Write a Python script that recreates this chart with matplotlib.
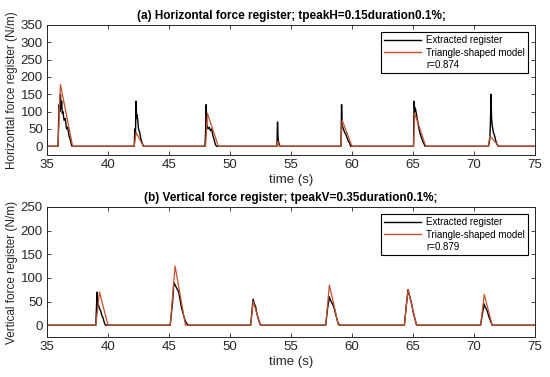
import matplotlib
matplotlib.use("Agg")
import matplotlib.pyplot as plt
from matplotlib.lines import Line2D

plt.rcParams["font.family"] = ["Liberation Sans", "DejaVu Sans"]

# --- HORIZONTAL REGISTER (extracted) ---
h_time = [35, 35.9, 35.95, 36.0, 36.05, 36.1, 36.15, 36.2, 36.25, 36.3, 36.4, 36.5, 36.6, 36.7, 36.8, 36.9, 37.0, 37.05,
          42.15, 42.2, 42.25, 42.3, 42.35, 42.4, 42.5, 42.6, 42.7, 42.8, 42.9,
          47.95, 48.0, 48.05, 48.1, 48.2, 48.3, 48.4, 48.5, 48.6, 48.7, 48.8, 48.9,
          53.85, 53.9, 53.95, 54.0, 54.1,
          59.1, 59.15, 59.2, 59.3, 59.4, 59.5, 59.6, 59.7, 59.8, 59.9,
          65.05, 65.1, 65.15, 65.2, 65.3, 65.4, 65.5, 65.6, 65.7, 65.8, 66.0,
          71.2, 71.3, 71.35, 71.4, 71.45, 71.5, 71.6, 71.7, 71.8, 71.9, 72.0, 75]
h_force = [0, 0, 70, 120, 100, 150, 110, 130, 95, 100, 75, 80, 50, 55, 30, 20, 5, 0,
           0, 50, 30, 130, 80, 90, 50, 40, 20, 10, 0,
           0, 40, 120, 60, 50, 55, 45, 50, 30, 20, 5, 0,
           0, 70, 20, 10, 0,
           0, 120, 60, 50, 40, 35, 25, 15, 10, 0,
           0, 130, 100, 110, 90, 70, 50, 35, 25, 15, 0,
           0, 20, 60, 150, 80, 60, 40, 30, 15, 5, 0, 0]

# triangle model: start, peak time, peak value, end
h_tri_start = [35.9, 42.15, 48.0, 53.85, 59.1, 65.05, 71.2]
h_tri_peak_t = [36.1, 42.3, 48.15, 53.9, 59.2, 65.15, 71.3]
h_tri_peak = [178, 40, 95, 15, 75, 95, 30]
h_tri_end = [37.1, 42.9, 49.05, 54.05, 60.0, 66.05, 72.05]

# --- VERTICAL REGISTER ---
v_time = [35, 39.0, 39.1, 39.15, 39.2, 39.3, 39.4, 39.5, 39.6, 39.7, 39.8,
          45.1, 45.3, 45.4, 45.5, 45.6, 45.7, 45.8, 45.9, 46.0, 46.2, 46.4, 46.6,
          51.7, 51.8, 51.9, 52.0, 52.1, 52.2, 52.3, 52.5,
          57.85, 58.0, 58.15, 58.2, 58.3, 58.4, 58.5, 58.7, 58.85, 59.0,
          64.3, 64.45, 64.6, 64.65, 64.8, 64.9, 65.0, 65.15, 65.3,
          70.55, 70.7, 70.85, 70.9, 71.0, 71.1, 71.2, 71.35, 71.5, 75]
v_force = [0, 0, 70, 40, 45, 35, 30, 20, 15, 5, 0,
           0, 50, 90, 85, 80, 75, 70, 55, 40, 20, 5, 0,
           0, 30, 55, 45, 40, 25, 15, 0,
           0, 35, 60, 55, 50, 45, 40, 20, 5, 0,
           0, 40, 75, 70, 55, 45, 30, 15, 0,
           0, 25, 45, 40, 35, 30, 20, 10, 0, 0]

v_tri_start = [39.0, 45.1, 51.7, 57.85, 64.3, 70.55]
v_tri_peak_t = [39.3, 45.5, 51.9, 58.15, 64.6, 70.85]
v_tri_peak = [70, 125, 50, 85, 75, 65]
v_tri_end = [40.0, 46.35, 52.5, 58.9, 65.3, 71.5]

red = "#c8502c"
grey = "#262626"


def tri_line(starts, peak_ts, peaks, ends):
    xs, ys = [35], [0]
    for s, pt, p, e in zip(starts, peak_ts, peaks, ends):
        xs += [s, pt, e]
        ys += [0, p, 0]
    xs.append(75)
    ys.append(0)
    return xs, ys


def style(ax, ylim, yticks, title, ylabel, r_text):
    ax.set_xlim(35, 75)
    ax.set_ylim(*ylim)
    ax.set_xticks(range(35, 80, 5))
    ax.set_yticks(yticks)
    ax.tick_params(direction="in", top=True, right=True, labelsize=9.5,
                   colors=grey, length=3, width=0.6, pad=3)
    for sp in ax.spines.values():
        sp.set_color(grey)
        sp.set_linewidth(0.7)
    ax.set_title(title, fontsize=8.5, weight="bold", pad=4)
    ax.set_ylabel(ylabel, fontsize=8.5, color=grey, labelpad=2)
    ax.set_xlabel("time (s)", fontsize=9.5, color=grey, labelpad=2)
    handles = [Line2D([], [], color="black", lw=1),
               Line2D([], [], color=red, lw=1),
               Line2D([], [], color="none")]
    leg = ax.legend(handles, ["Extracted register", "Triangle-shaped model", r_text],
                    loc="upper right", fontsize=7, fancybox=False, framealpha=1,
                    edgecolor="black", borderaxespad=0.7, handlelength=3.8,
                    labelspacing=0.25, borderpad=0.35, handletextpad=0.5)
    leg.get_frame().set_linewidth(0.8)


fig = plt.figure(figsize=(5.5, 3.77), dpi=100)
ax1 = fig.add_axes([0.0855, 0.589, 0.887, 0.345])
ax2 = fig.add_axes([0.0855, 0.106, 0.887, 0.345])

ax1.plot(h_time, h_force, color="black", lw=1)
ax1.plot(*tri_line(h_tri_start, h_tri_peak_t, h_tri_peak, h_tri_end), color=red, lw=0.9)
style(ax1, (-25, 350), range(0, 351, 50),
      "(a) Horizontal force register; tpeakH=0.15duration0.1%;",
      "Horizontal force register (N/m)", "r=0.874")

ax2.plot(v_time, v_force, color="black", lw=1)
ax2.plot(*tri_line(v_tri_start, v_tri_peak_t, v_tri_peak, v_tri_end), color=red, lw=0.9)
style(ax2, (-25, 250), range(0, 251, 50),
      "(b) Vertical force register; tpeakV=0.35duration0.1%;",
      "Vertical force register (N/m)", "r=0.879")

fig.savefig("out.png", dpi=100)
